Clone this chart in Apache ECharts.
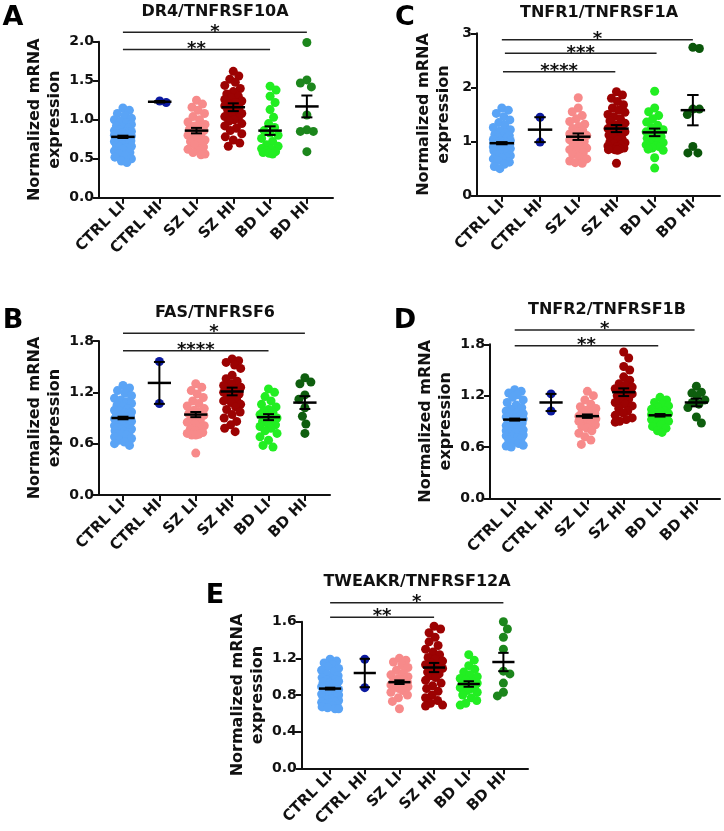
<!DOCTYPE html>
<html>
<head>
<meta charset="utf-8">
<title>TNF receptor mRNA</title>
<script src="https://cdn.jsdelivr.net/npm/echarts@6/dist/echarts.min.js"></script>
<style>
  html, body { margin: 0; padding: 0; background: #fff; }
  #chart { width: 724px; height: 831px; }
</style>
</head>
<body>
<div id="chart"></div>
<script>
// ---------------------------------------------------------------------
// data
// ---------------------------------------------------------------------
const categories = ['CTRL LI', 'CTRL HI', 'SZ LI', 'SZ HI', 'BD LI', 'BD HI'];

// A: DR4/TNFRSF10A
const dr4CtrlLI = [1.15,1.12,1.08,1.05,1.02,1.00,0.98,0.96,0.94,0.92,0.90,0.89,0.87,0.86,0.85,0.84,0.83,0.82,0.81,0.80,0.79,0.78,0.77,0.76,0.75,0.74,0.73,0.72,0.71,0.70,0.69,0.68,0.67,0.66,0.65,0.64,0.62,0.60,0.58,0.56,0.54,0.52,0.50,0.47,0.45];
const dr4CtrlHI = [1.24,1.22];
const dr4SzLI = [1.25,1.20,1.16,1.12,1.08,1.04,1.00,0.97,0.94,0.92,0.90,0.88,0.86,0.84,0.82,0.80,0.78,0.76,0.74,0.72,0.70,0.68,0.65,0.62,0.60,0.58,0.56,0.55];
const dr4SzHI = [1.62,1.56,1.52,1.48,1.44,1.40,1.36,1.33,1.30,1.28,1.26,1.24,1.22,1.20,1.18,1.16,1.14,1.12,1.10,1.08,1.06,1.04,1.02,1.00,0.98,0.95,0.92,0.89,0.86,0.82,0.78,0.74,0.70,0.66];
const dr4BdLI = [1.43,1.38,1.30,1.22,1.13,1.03,0.95,0.90,0.86,0.83,0.80,0.76,0.72,0.68,0.66,0.63,0.62,0.60,0.59,0.58,0.57,0.56];
const dr4BdHI = [1.99,1.51,1.47,1.42,1.06,0.87,0.85,0.85,0.59];
const dr4Mean = [0.78,1.23,0.86,1.16,0.86,1.17];
const dr4Sem = [0.015,0.01,0.035,0.05,0.055,0.14];
const dr4Sig = [[0, 5, 2.12, 1], [0, 4, 1.90, 2]];

// B: FAS/TNFRSF6
const fasCtrlLI = [1.28,1.25,1.22,1.19,1.16,1.13,1.11,1.09,1.07,1.05,1.03,1.01,0.99,0.98,0.97,0.96,0.95,0.94,0.93,0.92,0.91,0.90,0.89,0.88,0.87,0.86,0.85,0.84,0.83,0.82,0.81,0.80,0.79,0.78,0.77,0.76,0.75,0.74,0.73,0.72,0.71,0.70,0.68,0.66,0.64,0.62,0.60,0.58];
const fasCtrlHI = [1.56,1.07];
const fasSzLI = [1.30,1.26,1.22,1.18,1.14,1.10,1.07,1.04,1.01,0.99,0.97,0.95,0.93,0.91,0.89,0.87,0.85,0.83,0.81,0.79,0.77,0.75,0.73,0.72,0.71,0.70,0.70,0.49];
const fasSzHI = [1.59,1.57,1.55,1.52,1.48,1.40,1.36,1.33,1.30,1.28,1.26,1.24,1.22,1.20,1.18,1.16,1.14,1.12,1.10,1.08,1.06,1.03,1.00,0.97,0.94,0.90,0.86,0.82,0.78,0.74];
const fasBdLI = [1.24,1.20,1.15,1.10,1.06,1.03,1.00,0.98,0.96,0.94,0.92,0.90,0.88,0.86,0.84,0.82,0.80,0.78,0.75,0.72,0.68,0.64,0.58,0.56];
const fasBdHI = [1.37,1.32,1.30,1.17,1.12,1.02,0.92,0.83,0.72];
const fasMean = [0.90,1.31,0.94,1.21,0.91,1.08];
const fasSem = [0.015,0.245,0.03,0.045,0.035,0.075];
const fasSig = [[0, 5, 1.89, 1], [0, 4, 1.686, 4]];

// C: TNFR1/TNFRSF1A
const tnfr1CtrlLI = [1.62,1.58,1.52,1.46,1.40,1.35,1.30,1.26,1.22,1.19,1.16,1.13,1.11,1.09,1.07,1.05,1.04,1.02,1.01,1.00,0.99,0.98,0.97,0.96,0.95,0.94,0.93,0.92,0.91,0.90,0.89,0.88,0.87,0.86,0.85,0.84,0.83,0.82,0.80,0.78,0.76,0.74,0.72,0.70,0.68,0.65,0.62,0.58,0.54,0.50];
const tnfr1CtrlHI = [1.45,0.99];
const tnfr1SzLI = [1.81,1.62,1.55,1.48,1.42,1.37,1.32,1.28,1.24,1.20,1.17,1.14,1.11,1.08,1.06,1.03,1.00,0.97,0.94,0.91,0.88,0.85,0.82,0.79,0.76,0.72,0.68,0.64,0.61,0.60];
const tnfr1SzHI = [1.92,1.86,1.80,1.74,1.68,1.62,1.58,1.54,1.50,1.46,1.42,1.38,1.34,1.30,1.27,1.24,1.21,1.18,1.15,1.12,1.09,1.06,1.03,1.00,0.98,0.96,0.94,0.92,0.90,0.88,0.87,0.86,0.85,0.85,0.84,0.60];
const tnfr1BdLI = [1.93,1.62,1.55,1.48,1.42,1.36,1.30,1.26,1.22,1.18,1.15,1.12,1.09,1.06,1.03,1.00,0.98,0.96,0.94,0.92,0.90,0.88,0.86,0.84,0.70,0.51];
const tnfr1BdHI = [2.72,2.74,1.60,1.60,1.50,0.91,0.79,0.79];
const tnfr1Mean = [0.97,1.22,1.09,1.24,1.17,1.58];
const tnfr1Sem = [0.02,0.23,0.06,0.065,0.07,0.28];
const tnfr1Sig = [[0, 5, 2.88, 1], [0.08, 4.05, 2.63, 3], [0.03, 2.97, 2.29, 4]];

// D: TNFR2/TNFRSF1B
const tnfr2CtrlLI = [1.27,1.25,1.23,1.21,1.18,1.15,1.12,1.09,1.06,1.04,1.02,1.00,0.99,0.98,0.97,0.96,0.95,0.94,0.93,0.92,0.91,0.90,0.89,0.88,0.87,0.86,0.85,0.84,0.83,0.82,0.81,0.80,0.79,0.78,0.77,0.76,0.75,0.74,0.73,0.72,0.71,0.70,0.68,0.66,0.64,0.62,0.61,0.60];
const tnfr2CtrlHI = [1.22,1.02];
const tnfr2SzLI = [1.25,1.20,1.15,1.10,1.07,1.05,1.03,1.01,1.00,0.99,0.98,0.97,0.96,0.95,0.94,0.93,0.92,0.91,0.90,0.88,0.86,0.84,0.82,0.79,0.76,0.72,0.68,0.63];
const tnfr2SzHI = [1.71,1.64,1.54,1.50,1.42,1.38,1.34,1.32,1.30,1.28,1.26,1.24,1.22,1.20,1.18,1.16,1.14,1.12,1.10,1.08,1.05,1.02,1.00,0.97,0.94,0.92,0.90,0.89];
const tnfr2BdLI = [1.18,1.15,1.12,1.10,1.08,1.06,1.04,1.02,1.01,1.00,0.99,0.98,0.97,0.96,0.95,0.94,0.93,0.92,0.91,0.90,0.88,0.86,0.84,0.82,0.79,0.77];
const tnfr2BdHI = [1.31,1.24,1.23,1.20,1.15,1.12,1.10,1.06,0.95,0.88];
const tnfr2Mean = [0.92,1.12,0.96,1.24,0.97,1.12];
const tnfr2Sem = [0.012,0.10,0.02,0.045,0.015,0.045];
const tnfr2Sig = [[0, 4.95, 1.966, 1], [0, 3.95, 1.783, 2]];

// E: TWEAKR/TNFRSF12A
const tweakrCtrlLI = [1.19,1.17,1.15,1.13,1.11,1.09,1.07,1.05,1.03,1.01,0.99,0.98,0.97,0.96,0.95,0.94,0.93,0.92,0.91,0.90,0.89,0.88,0.87,0.86,0.85,0.84,0.83,0.82,0.81,0.80,0.80,0.79,0.78,0.78,0.77,0.76,0.75,0.74,0.73,0.72,0.71,0.70,0.69,0.68,0.67,0.66,0.65,0.65];
const tweakrCtrlHI = [1.19,0.88];
const tweakrSzLI = [1.20,1.18,1.16,1.13,1.10,1.07,1.04,1.02,1.00,0.98,0.96,0.95,0.94,0.93,0.92,0.91,0.90,0.89,0.88,0.87,0.85,0.83,0.80,0.77,0.73,0.65];
const tweakrSzHI = [1.55,1.52,1.48,1.43,1.38,1.34,1.30,1.27,1.24,1.21,1.19,1.17,1.15,1.13,1.11,1.09,1.07,1.05,1.03,1.01,0.99,0.96,0.93,0.90,0.87,0.84,0.80,0.77,0.74,0.71,0.69,0.68];
const tweakrBdLI = [1.24,1.18,1.12,1.08,1.05,1.02,1.00,0.98,0.96,0.94,0.93,0.92,0.91,0.90,0.89,0.88,0.87,0.85,0.83,0.80,0.77,0.74,0.71,0.69];
const tweakrBdHI = [1.60,1.52,1.43,1.30,1.06,1.03,0.93,0.83,0.79];
const tweakrMean = [0.87,1.04,0.94,1.10,0.92,1.16];
const tweakrSem = [0.01,0.155,0.02,0.05,0.03,0.10];
const tweakrSig = [[0, 5, 1.808, 1], [0, 3, 1.648, 2]];

// ---------------------------------------------------------------------
// layout / styling
// ---------------------------------------------------------------------
const FONT = '"DejaVu Sans", "Liberation Sans", Arial, sans-serif';
const SYMBOL = 9;
const baseColors = ['#5aa4f6', '#0c1aa0', '#f78a8a', '#9c0202', '#22ee22'];

const panels = [
  { letter: 'A', title: 'DR4/TNFRSF10A', groups: [dr4CtrlLI, dr4CtrlHI, dr4SzLI, dr4SzHI, dr4BdLI, dr4BdHI],
    mean: dr4Mean, sem: dr4Sem, sig: dr4Sig, bdHiColor: '#1c861c',
    grid: { left: 99, top: 41.7, width: 234, height: 156 }, xMin: -0.65, xMax: 5.71, yMax: 2, step: 0.5, digits: 1,
    titlePos: [215, 12], letterPos: [13, 18], nameGap: 29 },
  { letter: 'B', title: 'FAS/TNFRSF6', groups: [fasCtrlLI, fasCtrlHI, fasSzLI, fasSzHI, fasBdLI, fasBdHI],
    mean: fasMean, sem: fasSem, sig: fasSig, bdHiColor: '#0e5e0e',
    grid: { left: 99, top: 341, width: 231, height: 154 }, xMin: -0.66, xMax: 5.69, yMax: 1.8, step: 0.6, digits: 1,
    titlePos: [215, 313], letterPos: [13, 321], nameGap: 29 },
  { letter: 'C', title: 'TNFR1/TNFRSF1A', groups: [tnfr1CtrlLI, tnfr1CtrlHI, tnfr1SzLI, tnfr1SzHI, tnfr1BdLI, tnfr1BdHI],
    mean: tnfr1Mean, sem: tnfr1Sem, sig: tnfr1Sig, bdHiColor: '#0a560a',
    grid: { left: 477, top: 33.3, width: 243, height: 162.4 }, xMin: -0.65, xMax: 5.71, yMax: 3, step: 1, digits: 0,
    titlePos: [599, 13], letterPos: [405, 18], nameGap: 23 },
  { letter: 'D', title: 'TNFR2/TNFRSF1B', groups: [tnfr2CtrlLI, tnfr2CtrlHI, tnfr2SzLI, tnfr2SzHI, tnfr2BdLI, tnfr2BdHI],
    mean: tnfr2Mean, sem: tnfr2Sem, sig: tnfr2Sig, bdHiColor: '#0e5e0e',
    grid: { left: 490, top: 344.3, width: 230, height: 154 }, xMin: -0.68, xMax: 5.65, yMax: 1.8, step: 0.6, digits: 1,
    titlePos: [607, 310], letterPos: [405, 321], nameGap: 29 },
  { letter: 'E', title: 'TWEAKR/TNFRSF12A', groups: [tweakrCtrlLI, tweakrCtrlHI, tweakrSzLI, tweakrSzHI, tweakrBdLI, tweakrBdHI],
    mean: tweakrMean, sem: tweakrSem, sig: tweakrSig, bdHiColor: '#1c861c',
    grid: { left: 301.7, top: 621.7, width: 226.3, height: 146.6 }, xMin: -0.82, xMax: 5.71, yMax: 1.6, step: 0.4, digits: 1,
    titlePos: [417, 582], letterPos: [215, 596], nameGap: 29 }
];

// beeswarm offsets in pixels -> converted to x units
// (vertical distance is squeezed a little so that near-level dots spread sideways, GraphPad style)
function swarmX(values, center, pxX, pxY) {
  const order = values.map((v, i) => i).sort((a, b) => values[b] - values[a]);
  const placed = [];
  const xs = new Array(values.length);
  const minD = 6.4, maxOff = 8.5, squeeze = 0.7;
  order.forEach((i, n) => {
    const y = values[i] * pxY * squeeze;
    const sign = n % 2 ? 1 : -1;
    let chosen = null, bestOff = 0, bestD = -1;
    for (let k = 0; k <= maxOff * 2 && chosen === null; k++) {
      for (const s of [sign, -sign]) {
        const off = s * k * 0.5;
        let d = Infinity;
        for (const p of placed) d = Math.min(d, Math.hypot(p[0] - off, p[1] - y));
        if (d >= minD) { chosen = off; break; }
        if (d > bestD) { bestD = d; bestOff = off; }
        if (k === 0) break;
      }
    }
    const off = chosen === null ? bestOff : chosen;
    placed.push([off, y]);
    xs[i] = center + off / pxX;
  });
  return xs;
}

const grids = [], xAxes = [], yAxes = [], series = [], graphics = [];

panels.forEach((p, pi) => {
  grids.push(p.grid);
  const pxX = p.grid.width / (p.xMax - p.xMin);
  const pxY = p.grid.height / p.yMax;
  xAxes.push({
    type: 'value', gridIndex: pi, min: p.xMin, max: p.xMax,
    axisLine: { show: true, onZero: false, lineStyle: { color: '#111', width: 2 } },
    axisTick: { show: true, customValues: [0, 1, 2, 3, 4, 5], length: 6, lineStyle: { color: '#111', width: 2 } },
    axisLabel: {
      customValues: [0, 1, 2, 3, 4, 5], rotate: 45, margin: 7,
      formatter: v => categories[Math.round(v)],
      fontFamily: FONT, fontWeight: 'bold', fontSize: 15, color: '#111'
    },
    splitLine: { show: false }
  });
  yAxes.push({
    type: 'value', gridIndex: pi, min: 0, max: p.yMax, interval: p.step,
    name: 'Normalized mRNA\nexpression', nameLocation: 'middle', nameGap: p.nameGap,
    nameTextStyle: { fontFamily: FONT, fontWeight: 'bold', fontSize: 16, lineHeight: 20, color: '#111' },
    axisLine: { show: true, onZero: false, lineStyle: { color: '#111', width: 2 } },
    axisTick: { show: true, length: 6, lineStyle: { color: '#111', width: 2 } },
    axisLabel: { formatter: v => v.toFixed(p.digits), fontFamily: FONT, fontWeight: 'bold', fontSize: 14, color: '#111', margin: 5 },
    splitLine: { show: false }
  });

  p.groups.forEach((vals, gi) => {
    const xs = swarmX(vals, gi, pxX, pxY);
    series.push({
      type: 'scatter', xAxisIndex: pi, yAxisIndex: pi, symbolSize: SYMBOL,
      itemStyle: { color: gi === 5 ? p.bdHiColor : baseColors[gi], opacity: 1 },
      data: vals.map((v, k) => [xs[k], v]), z: 2, silent: true
    });
  });

  // mean +/- SEM
  series.push({
    type: 'custom', xAxisIndex: pi, yAxisIndex: pi, z: 5, silent: true,
    data: p.mean.map((m, gi) => [gi, m, p.sem[gi]]),
    renderItem: (params, api) => {
      const x = api.value(0), m = api.value(1), s = api.value(2);
      const c = api.coord([x, m]), t = api.coord([x, m + s]), b = api.coord([x, m - s]);
      const w = api.size([1, 0])[0];
      const half = 0.32 * w, cap = 0.15 * w;
      const st = { stroke: '#000', lineWidth: 2.5 };
      return { type: 'group', children: [
        { type: 'line', shape: { x1: c[0] - half, y1: c[1], x2: c[0] + half, y2: c[1] }, style: st },
        { type: 'line', shape: { x1: c[0], y1: t[1], x2: c[0], y2: b[1] }, style: { stroke: '#000', lineWidth: 2 } },
        { type: 'line', shape: { x1: c[0] - cap, y1: t[1], x2: c[0] + cap, y2: t[1] }, style: { stroke: '#000', lineWidth: 2 } },
        { type: 'line', shape: { x1: c[0] - cap, y1: b[1], x2: c[0] + cap, y2: b[1] }, style: { stroke: '#000', lineWidth: 2 } }
      ] };
    }
  });

  // significance bars
  series.push({
    type: 'custom', xAxisIndex: pi, yAxisIndex: pi, z: 6, silent: true, clip: false,
    data: p.sig,
    renderItem: (params, api) => {
      const a = api.coord([api.value(0), api.value(2)]);
      const b = api.coord([api.value(1), api.value(2)]);
      return { type: 'group', children: [
        { type: 'line', shape: { x1: a[0], y1: a[1], x2: b[0], y2: b[1] }, style: { stroke: '#222', lineWidth: 1.5 } },
        { type: 'text', x: (a[0] + b[0]) / 2, y: a[1] - 0.5,
          style: { text: '*'.repeat(api.value(3)), textAlign: 'center', textVerticalAlign: 'middle',
                   font: 'bold 18px ' + FONT, fill: '#111' } }
      ] };
    }
  });

  graphics.push({ type: 'text', x: p.titlePos[0], y: p.titlePos[1],
    style: { text: p.title, textAlign: 'center', textVerticalAlign: 'middle', font: 'bold 16px ' + FONT, fill: '#111' } });
  graphics.push({ type: 'text', x: p.letterPos[0], y: p.letterPos[1],
    style: { text: p.letter, textAlign: 'center', textVerticalAlign: 'middle', font: 'bold 27px ' + FONT, fill: '#000' } });
});

const chart = echarts.init(document.getElementById('chart'));
chart.setOption({
  animation: false,
  backgroundColor: '#fff',
  grid: grids,
  xAxis: xAxes,
  yAxis: yAxes,
  series: series,
  graphic: graphics
});
</script>
</body>
</html>
